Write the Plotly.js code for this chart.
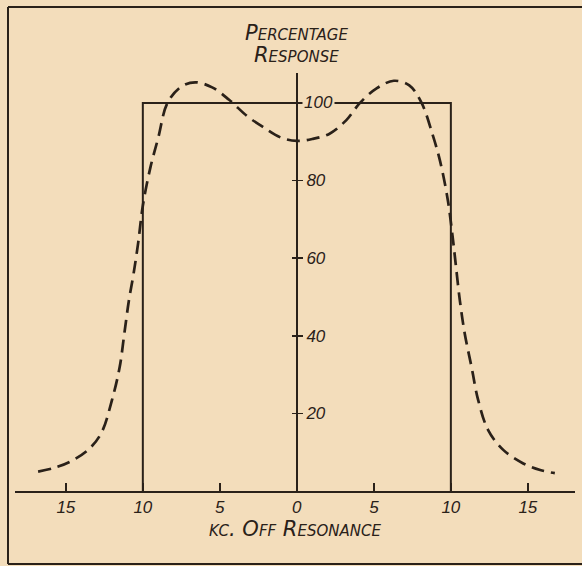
<!DOCTYPE html>
<html>
<head>
<meta charset="utf-8">
<script src="https://cdn.plot.ly/plotly-3.0.1.min.js"></script>
<style>
  html, body { margin: 0; padding: 0; background: #f3ddbb; }
  #chart { width: 582px; height: 566px; }
</style>
</head>
<body>
<div id="chart"></div>
<script>
// ---- data ----
const kcOffResonance = [-16.8, -15.8, -14.7, -13.55, -12.7, -12.0, -11.5, -11.2, -10.9, -10.6, -10.3, -10.0, -9.5, -9.0, -8.4, -7.5, -6.6, -5.5, -4.4, -3.2, -2.2, -1.0, 0.0, 1.0, 2.1, 3.2, 4.1, 5.2, 6.3, 7.3, 8.1, 8.8, 9.3, 9.8, 10.1, 10.3, 10.58, 10.9, 11.34, 11.77, 12.42, 13.4, 14.7, 15.8, 16.75];
const actualResponse = [5.0, 5.9, 7.6, 10.6, 14.9, 23.5, 32.0, 40.6, 49.2, 56.0, 64.0, 73.5, 83.5, 91.0, 100.0, 104.2, 105.3, 104.0, 100.8, 96.5, 93.8, 91.0, 90.2, 90.7, 92.0, 95.5, 100.0, 103.8, 105.7, 104.5, 100.0, 92.0, 85.0, 75.0, 66.0, 59.0, 49.2, 40.6, 32.0, 23.5, 15.7, 10.6, 7.1, 5.4, 4.6];
const idealKc = [-10, -10, 10, 10];
const idealResponse = [0, 100, 100, 0];
const xTickVals = [-15, -10, -5, 0, 5, 10, 15];
const xTickText = ['15', '10', '5', '0', '5', '10', '15'];
const yTickVals = [20, 40, 60, 80, 100];
const yTickText = ['20', '40', '60', '80', ''];
const yTitleLines = ['Percentage', 'Response'];
const xTitle = 'kc. Off Resonance';
const label100 = '100';

const ink = '#2a2119';
const bg = '#f3ddbb';
const fontFam = '"Liberation Sans", Arial, sans-serif';
const titleFam = '"DejaVu Sans", "Liberation Sans", sans-serif';
const it = s => '<i>' + s + '</i>';

const traces = [
  {
    x: idealKc, y: idealResponse, type: 'scatter', mode: 'lines',
    line: { color: ink, width: 2 }, hoverinfo: 'skip', cliponaxis: false
  },
  {
    x: kcOffResonance, y: actualResponse, type: 'scatter', mode: 'lines',
    line: { color: ink, width: 2.7, dash: '13px,7px', shape: 'spline', smoothing: 1 },
    hoverinfo: 'skip', cliponaxis: false
  },
  // mirror axis for tick marks on the left side of the vertical axis
  {
    x: [0], y: [0], yaxis: 'y2', type: 'scatter', mode: 'markers',
    marker: { opacity: 0 }, hoverinfo: 'skip', showlegend: false
  }
];

const layout = {
  width: 582, height: 566,
  margin: { l: 15, r: 7, t: 73, b: 75 },
  paper_bgcolor: bg, plot_bgcolor: bg,
  showlegend: false,
  font: { family: fontFam, color: ink },
  xaxis: {
    range: [-18.3, 18.06],
    showgrid: false, zeroline: false,
    showline: true, linecolor: ink, linewidth: 2,
    ticks: 'inside', ticklen: 8, tickwidth: 1.5, tickcolor: ink,
    tickvals: xTickVals, ticktext: xTickText.map(it),
    tickfont: { family: fontFam, size: 17, style: 'italic', color: ink },
    title: { text: it(xTitle), standoff: 3,
      font: { family: titleFam, size: 21, style: 'italic', variant: 'small-caps', color: ink } },
    fixedrange: true
  },
  yaxis: {
    range: [0, 107.7],
    anchor: 'free', position: 0.5036, side: 'right',
    showgrid: false, zeroline: false,
    showline: true, linecolor: ink, linewidth: 2,
    ticks: 'outside', ticklen: 5, tickwidth: 1.5, tickcolor: ink,
    tickvals: yTickVals, ticktext: yTickText.map(it),
    tickfont: { family: fontFam, size: 17, style: 'italic', color: ink },
    ticklabelstandoff: 0,
    fixedrange: true
  },
  yaxis2: {
    range: [0, 107.7], overlaying: 'y',
    anchor: 'free', position: 0.5036, side: 'left',
    showgrid: false, zeroline: false, showline: false,
    ticks: 'outside', ticklen: 5, tickwidth: 1.5, tickcolor: ink,
    tickvals: yTickVals, showticklabels: false,
    fixedrange: true
  },
  annotations: [
    {
      text: it(label100), x: 0, y: 100, xref: 'x', yref: 'y',
      xanchor: 'left', yanchor: 'middle', xshift: 5, showarrow: false,
      bgcolor: bg, borderpad: 1,
      font: { family: fontFam, size: 17, style: 'italic', color: ink }
    },
    {
      text: it(yTitleLines[0]), x: 0, xref: 'x', y: 1.0957, yref: 'paper',
      xanchor: 'center', yanchor: 'middle', showarrow: false,
      font: { family: titleFam, size: 21, style: 'italic', variant: 'small-caps', color: ink }
    },
    {
      text: it(yTitleLines[1]), x: 0, xref: 'x', y: 1.043, yref: 'paper',
      xanchor: 'center', yanchor: 'middle', showarrow: false,
      font: { family: titleFam, size: 21, style: 'italic', variant: 'small-caps', color: ink }
    }
  ],
  shapes: [
    { type: 'line', xref: 'paper', yref: 'paper', x0: -0.0125, x1: -0.0125, y0: -0.1746, y1: 1.158,
      line: { color: ink, width: 2 } },
    { type: 'line', xref: 'paper', yref: 'paper', x0: -0.0125, x1: 1.02, y0: 1.158, y1: 1.158,
      line: { color: ink, width: 2 } },
    { type: 'line', xref: 'paper', yref: 'paper', x0: -0.0125, x1: 1.02, y0: -0.1746, y1: -0.1746,
      line: { color: ink, width: 2 } }
  ]
};

Plotly.newPlot('chart', traces, layout, { staticPlot: true, displayModeBar: false });
</script>
</body>
</html>
